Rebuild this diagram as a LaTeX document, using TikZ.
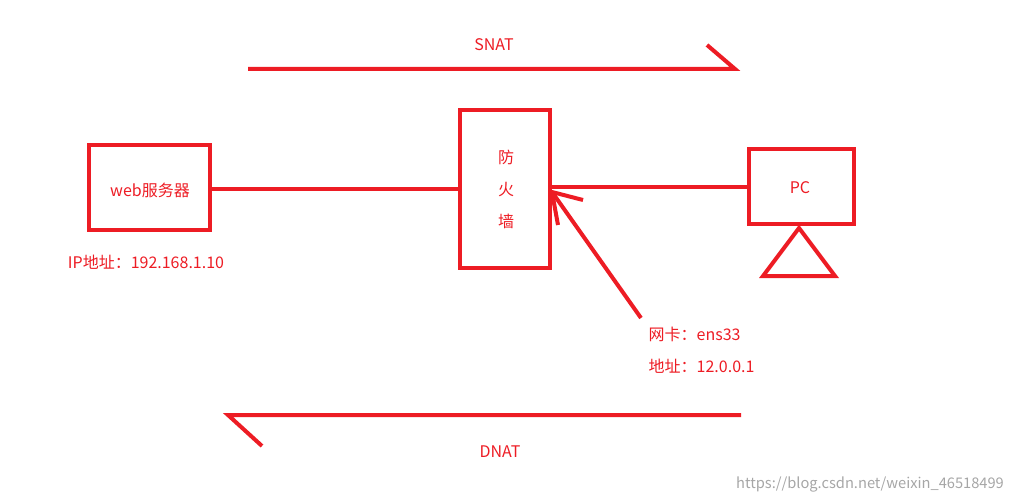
\documentclass[tikz,border=0pt]{standalone}
\usepackage{fontspec}
\setmainfont{Noto Sans CJK SC}
\usetikzlibrary{positioning}
\definecolor{pen}{RGB}{237,28,36}
\begin{document}
\begin{tikzpicture}[x=0.75pt,y=-0.75pt,
        box/.style={draw=pen, line width=3pt, minimum width=#1},
        lbl/.style={text=pen, font=\fontsize{12}{14}\selectfont},
        stroke/.style={draw=pen, line width=3pt}]
    \useasboundingbox (0,0) rectangle (1013,503);
    % boxes
    \draw[stroke] (89,145) rectangle (210,230);
    \node[lbl] (web) at (150,190) {web服务器};
    \draw[stroke] (460,110) rectangle (550,268);
    \node[lbl, align=center] (fw) at (506,189) {防\\[10pt]火\\[10pt]墙};
    \draw[stroke] (749,149) rectangle (854,224);
    \node[lbl] (pc) at (800,188) {PC};
    \draw[stroke] (799,228) -- (835,276) -- (763,276) -- cycle;
    \node[lbl] (ip) at (146,262) {IP地址：192.168.1.10};
    \node[lbl, anchor=west] (nic) at (644,334) {网卡：ens33};
    \node[lbl, anchor=west] (addr) at (644,366) {地址：12.0.0.1};
    % links
    \coordinate (wr) at (210,189);
    \coordinate (fl) at (460,189);
    \coordinate (fr) at (550,187);
    \coordinate (pl) at (749,187);
    \draw[stroke] (wr) -- (fl);
    \draw[stroke] (pl) -- (fr);
    \coordinate (tip) at (552,192);
    \coordinate (tail) at (641,318);
    \draw[stroke] (tail) -- (tip);
    \draw[stroke] (583,200) -- (tip) -- (558,225);
    % SNAT / DNAT
    \node[lbl] (snat) at (494,45) {SNAT};
    \coordinate (s1) at (248,69);
    \coordinate (s2) at (735,69);
    \draw[stroke] (s1) -- (s2) -- (707,45);
    \node[lbl] (dnat) at (500,452) {DNAT};
    \coordinate (d1) at (741,415);
    \coordinate (d2) at (228,415);
    \draw[stroke] (d1) -- (d2) -- (262,446);
    \node[text=black!35, font=\fontsize{11}{13}\selectfont] (mark) at (870,484) {https://blog.csdn.net/weixin\_46518499};
\end{tikzpicture}
\end{document}
